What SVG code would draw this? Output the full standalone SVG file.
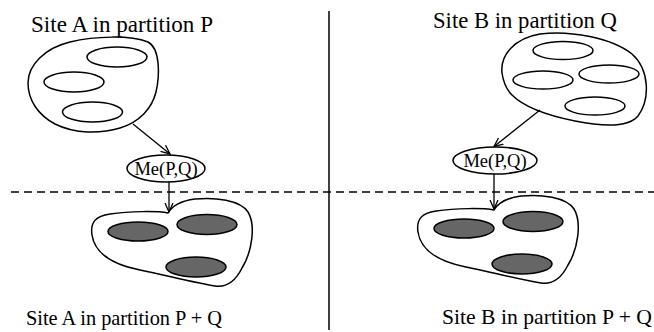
<svg xmlns="http://www.w3.org/2000/svg" width="654" height="332" viewBox="0 0 654 332">
<style>
.t{font-family:"Liberation Serif","Times New Roman",serif;fill:#000}
.title{font-size:22.5px}
.me{font-size:18.5px}
.blob{fill:none;stroke:#000;stroke-width:1.5}
.site{fill:none;stroke:#000;stroke-width:1.5}
.sitef{fill:#666;stroke:#000;stroke-width:1.5}
.menode{fill:#fff;stroke:#000;stroke-width:1.5}
.conn{fill:none;stroke:#000;stroke-width:1.3}
</style>
<defs>
<marker id="arr" markerWidth="10" markerHeight="10" refX="9" refY="5" orient="auto" markerUnits="userSpaceOnUse">
<path d="M0,1 L9,5 L0,9" fill="none" stroke="#000" stroke-width="1.3"/>
</marker>
</defs>
<g id="dividers">
<line x1="329" y1="11" x2="329" y2="330" stroke="#000" stroke-width="1.5"/>
<line x1="11" y1="192" x2="654" y2="192" stroke="#000" stroke-width="1.3" stroke-dasharray="8 5"/>
</g>
<g id="partitionP">
<text class="t title" x="31" y="32" textLength="182" lengthAdjust="spacingAndGlyphs">Site A in partition P</text>
<path class="blob" d="M28,83 C28,65 45,48 70,42 C95,36 130,35 148,42 C160,48 160,75 156,92 C152,108 140,122 120,128 C100,134 75,134 55,124 C38,115 28,100 28,83 Z"/>
<ellipse class="site" cx="117" cy="57" rx="30" ry="10"/>
<ellipse class="site" cx="74" cy="82" rx="30" ry="10"/>
<ellipse class="site" cx="92.5" cy="112" rx="30" ry="10"/>
</g>
<g id="partitionQ">
<text class="t title" x="433" y="28" textLength="184" lengthAdjust="spacingAndGlyphs">Site B in partition Q</text>
<path class="blob" d="M502,73 C500,55 515,38 540,34 C570,30 612,38 632,54 C650,70 650,100 638,116 C628,128 600,126 575,121 C550,116 525,108 512,95 C505,88 503,80 502,73 Z"/>
<ellipse class="site" cx="563" cy="50.5" rx="30" ry="9"/>
<ellipse class="site" cx="609" cy="74" rx="30" ry="9"/>
<ellipse class="site" cx="543" cy="80" rx="30" ry="9"/>
<ellipse class="site" cx="595" cy="106" rx="30" ry="9"/>
</g>
<g id="meA">
<ellipse class="menode" cx="166" cy="168.5" rx="39" ry="13.5"/>
<text class="t me" x="166" y="175" text-anchor="middle">Me(P,Q)</text>
</g>
<g id="meB">
<ellipse class="menode" cx="495" cy="160.5" rx="42" ry="13.5"/>
<text class="t me" x="495" y="167" text-anchor="middle">Me(P,Q)</text>
</g>
<g id="partitionPQ_A">
<path class="blob" d="M168,213 C172,206 180,201 195,199 C215,197 240,200 248,212 C256,225 252,252 242,268 C236,280 228,288 215,286 C195,283 165,275 140,270 C115,265 95,255 92,235 C90,222 96,216 110,214 C130,211 158,211 168,213 Z"/>
<ellipse class="sitef" cx="138" cy="231.5" rx="30" ry="9.5"/>
<ellipse class="sitef" cx="207" cy="224.5" rx="30" ry="10"/>
<ellipse class="sitef" cx="196" cy="267" rx="30" ry="10"/>
<text class="t" x="26" y="325" font-size="21" textLength="196" lengthAdjust="spacingAndGlyphs">Site A in partition P + Q</text>
</g>
<g id="partitionPQ_B">
<g transform="translate(326,-3)">
<path class="blob" d="M168,213 C172,206 180,201 195,199 C215,197 240,200 248,212 C256,225 252,252 242,268 C236,280 228,288 215,286 C195,283 165,275 140,270 C115,265 95,255 92,235 C90,222 96,216 110,214 C130,211 158,211 168,213 Z"/>
<ellipse class="sitef" cx="138" cy="231.5" rx="30" ry="9.5"/>
<ellipse class="sitef" cx="207" cy="224.5" rx="30" ry="10"/>
<ellipse class="sitef" cx="196" cy="267" rx="30" ry="10"/>
</g>
<text class="t" x="442" y="324" font-size="21.5" textLength="210" lengthAdjust="spacingAndGlyphs">Site B in partition P + Q</text>
</g>
<g id="connectors">
<line class="conn" x1="133" y1="124" x2="170" y2="154" marker-end="url(#arr)"/>
<line class="conn" x1="540" y1="110" x2="494" y2="146.5" marker-end="url(#arr)"/>
<line class="conn" x1="169" y1="182" x2="169" y2="212" marker-end="url(#arr)"/>
<line class="conn" x1="494" y1="174" x2="494" y2="209" marker-end="url(#arr)"/>
</g>
</svg>
